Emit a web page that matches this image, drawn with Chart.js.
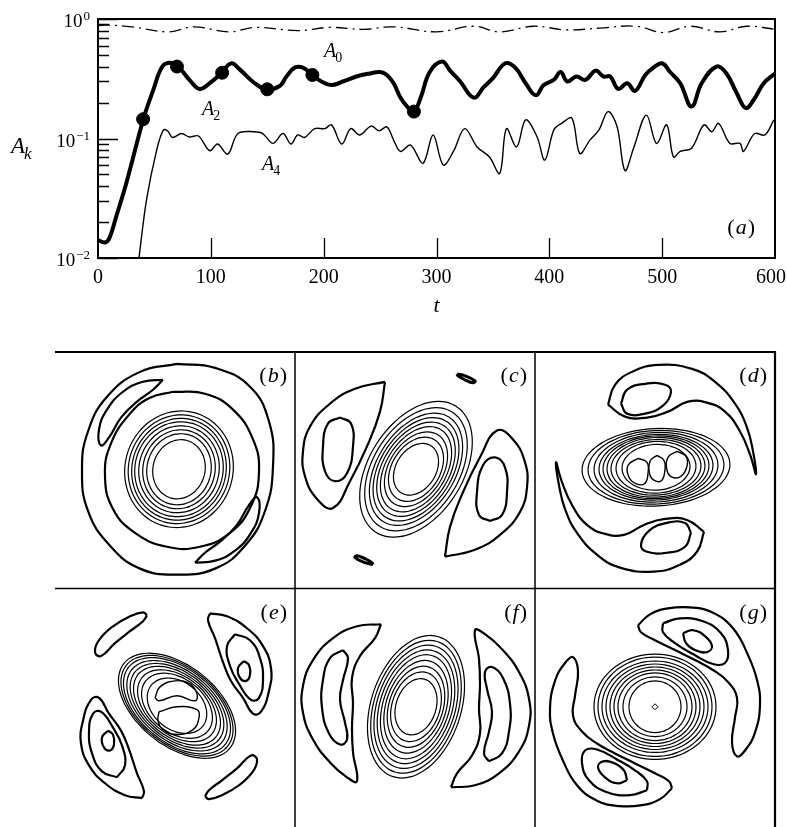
<!DOCTYPE html>
<html>
<head>
<meta charset="utf-8">
<script src="https://cdn.jsdelivr.net/npm/chart.js@4.4.1/dist/chart.umd.min.js"></script>
<style>
html, body { margin: 0; padding: 0; background: #fff; overflow: hidden; width: 787px; height: 827px; }
#seriesChart { position: absolute; left: 0; top: 0; }
#mapChart { position: absolute; left: 0; top: 340px; }
</style>
</head>
<body>
<canvas id="seriesChart" width="787" height="340"></canvas>
<canvas id="mapChart" width="787" height="490"></canvas>
<script>
// ---- panel (a): amplitudes A_k(t) ----
const tA0 = [0, 7, 30, 63, 85, 116, 140, 177, 205, 235, 262, 300, 333, 356, 386, 415, 445, 477, 501, 525, 551, 575, 600];
const valA0 = [0.88, 0.89, 0.86, 0.78, 0.86, 0.78, 0.85, 0.80, 0.85, 0.82, 0.86, 0.78, 0.87, 0.78, 0.87, 0.81, 0.84, 0.87, 0.77, 0.87, 0.78, 0.87, 0.82];

const tA2 = [0, 6, 10, 16, 25, 40, 49, 57, 64, 71, 81, 90, 99, 109, 118, 126, 137, 149, 161, 167, 174, 182, 190, 198, 207, 217, 229, 241, 250, 256, 262, 268, 274, 280, 286, 294, 305, 312, 321, 333, 342, 350, 361, 370, 379, 388, 395, 404, 410, 416, 424, 432, 441, 448, 454, 461, 469, 476, 485, 492, 500, 507, 516, 526, 535, 548, 557, 566, 574, 581, 590, 600];
const valA2 = [0.0141, 0.0135, 0.0146, 0.022, 0.042, 0.143, 0.255, 0.40, 0.43, 0.40, 0.31, 0.26, 0.29, 0.35, 0.425, 0.375, 0.30, 0.258, 0.275, 0.33, 0.39, 0.39, 0.34, 0.30, 0.28, 0.30, 0.33, 0.35, 0.36, 0.34, 0.29, 0.22, 0.185, 0.168, 0.22, 0.36, 0.44, 0.37, 0.30, 0.22, 0.27, 0.32, 0.426, 0.39, 0.29, 0.23, 0.28, 0.31, 0.36, 0.30, 0.33, 0.31, 0.37, 0.33, 0.33, 0.26, 0.29, 0.25, 0.34, 0.39, 0.426, 0.36, 0.29, 0.185, 0.29, 0.40, 0.35, 0.24, 0.18, 0.21, 0.29, 0.35];

const tA4 = [36, 43, 52, 58, 62, 66, 74, 81, 89, 99, 106, 115, 124, 138, 146, 155, 164, 171, 177, 183, 192, 201, 207, 216, 224, 232, 242, 249, 256, 262, 268, 277, 288, 297, 306, 315, 325, 336, 347, 356, 362, 371, 379, 389, 396, 404, 411, 420, 427, 436, 444, 452, 460, 467, 475, 486, 495, 504, 510, 516, 526, 537, 544, 550, 560, 569, 572, 582, 591, 599];
const valA4 = [0.0095, 0.0306, 0.080, 0.118, 0.115, 0.102, 0.11, 0.103, 0.105, 0.079, 0.09, 0.074, 0.11, 0.114, 0.11, 0.091, 0.11, 0.09, 0.107, 0.102, 0.121, 0.121, 0.13, 0.09, 0.121, 0.107, 0.127, 0.116, 0.125, 0.097, 0.078, 0.088, 0.062, 0.107, 0.060, 0.078, 0.121, 0.085, 0.070, 0.051, 0.121, 0.085, 0.143, 0.104, 0.066, 0.118, 0.134, 0.148, 0.075, 0.097, 0.118, 0.168, 0.126, 0.054, 0.085, 0.157, 0.091, 0.13, 0.07, 0.078, 0.083, 0.13, 0.114, 0.134, 0.091, 0.091, 0.078, 0.11, 0.107, 0.143];

// snapshot times marked on A_2 (panels b-g)
const tSnap = [40, 70, 110, 150, 190, 280];
const valSnap = [0.145, 0.40, 0.355, 0.258, 0.34, 0.168];

const xTicks = [0, 100, 200, 300, 400, 500, 600];
const yDecades = [0.01, 0.1, 1];
const yExponents = ['\u22122', '\u22121', '0'];

// ---- panels (b)-(g): contour maps, local coords 240 x 238 per panel ----
const panelNames = ['b', 'c', 'd', 'e', 'f', 'g'];
const panelOrigins = [[0, 0], [240, 0], [480, 0], [0, 238], [240, 238], [480, 238]];

// dense vortex rings: centre, tilt (deg), semi-axes
const ringCenters = [[124, 118], [121, 118], [121, 116], [122, 118], [121, 119], [120, 119]];
const ringTilts = [15, -58, -3, 39, -72, 0];
const ringA = [
  [26, 32, 36, 40, 44, 47, 50.5, 54],
  [28, 35, 41, 47, 52, 57, 62, 68, 75],
  [34, 40, 45, 49, 53, 57, 62, 68, 74],
  [33, 40, 45, 50, 54, 58, 62, 65, 68],
  [29, 36, 42, 48, 54, 59, 64, 69, 74],
  [26, 32, 37, 41, 45, 49, 53, 57, 61]
];
const ringB = [
  [30, 36, 40, 44, 48, 51.5, 55, 59],
  [20, 24, 27, 30, 33, 36, 39, 43, 47],
  [23, 26, 28, 30, 31.5, 33, 35, 37, 39],
  [24, 27, 29, 31, 33, 35, 37, 38.5, 40],
  [20, 24, 27, 30, 33, 36, 39, 42, 45],
  [26, 30, 34, 37, 40, 43, 46, 50, 53]
];

// outer contours (thick) per panel
const curvesB = [
  [[122,12],[160,16],[195,35],[214,70],[218,115],[210,160],[190,195],[160,218],[122,224],[85,218],[55,195],[33,160],[27,118],[33,80],[52,45],[85,20]],
  [[118,40],[150,42],[178,58],[198,88],[204,120],[196,155],[175,182],[145,196],[112,196],[80,182],[58,158],[50,125],[56,92],[75,62],[95,46]],
  [[108,28],[88,30],[68,40],[52,58],[44,78],[46,94],[54,86],[66,66],[82,50],[98,38]],
  [[140,212],[160,210],[180,200],[196,182],[204,162],[202,146],[194,154],[182,174],[166,190],[150,202]]
];
const curvesC = [
  [[90,30],[85,60],[72,95],[55,130],[38,157],[22,148],[10,125],[8,100],[15,75],[35,52],[60,37]],
  [[45,66],[56,72],[58,95],[52,122],[40,130],[30,120],[28,95],[33,72]],
  [[150,206],[155,176],[168,141],[185,106],[202,79],[218,88],[230,111],[232,136],[225,161],[205,184],[180,199]],
  [[195,170],[184,164],[182,141],[188,114],[200,106],[210,116],[212,141],[207,164]]
];
const blobsC = [
  [[162,22],[170,24],[180,29],[178,31],[170,28],[163,24]],
  [[78,214],[70,212],[60,207],[62,205],[70,208],[77,212]]
];
const curvesD = [
  [[73,53],[90,65],[112,66],[133,60],[153,50],[172,51],[190,60],[205,80],[215,103],[221,123],[218,100],[212,76],[200,52],[180,30],[157,17],[123,13],[97,20],[80,33]],
  [[86,52],[92,38],[110,32],[130,33],[136,40],[128,54],[110,62],[92,62]],
  [[169,181],[152,169],[130,168],[109,174],[89,184],[70,183],[52,174],[37,154],[27,131],[21,111],[24,134],[30,158],[42,182],[62,204],[85,217],[119,221],[145,214],[162,201]],
  [[156,182],[150,196],[132,202],[112,201],[106,194],[114,180],[132,172],[150,172]]
];
const coresD = [
  [[103,107],[112,111],[113,122],[110,132],[102,133],[94,126],[93,114]],
  [[122,104],[129,109],[130,118],[127,129],[121,130],[115,124],[115,110]],
  [[142,100],[151,105],[152,115],[146,125],[137,126],[132,119],[133,106]]
];
const curvesE = [
  [[92,27],[88,33],[75,43],[60,55],[46,68],[40,64],[44,52],[58,38],[75,28],[88,24]],
  [[150,209],[154,203],[167,193],[182,181],[196,168],[202,172],[198,184],[184,198],[167,208],[154,212]],
  [[155,25],[172,28],[192,40],[208,58],[216,80],[214,103],[206,124],[198,126],[188,110],[176,93],[168,74],[160,50],[153,32]],
  [[180,46],[195,52],[205,70],[208,92],[204,110],[196,112],[184,96],[175,78],[172,58]],
  [[189,73],[194,77],[195,87],[191,93],[185,90],[183,80]],
  [[87,211],[70,208],[50,196],[34,178],[26,156],[28,133],[36,112],[44,110],[54,126],[66,143],[74,162],[82,186],[89,204]],
  [[62,190],[47,184],[37,166],[34,144],[38,126],[46,124],[58,140],[67,158],[70,178]],
  [[53,143],[58,147],[59,157],[55,163],[49,160],[47,150]]
];
const coresE = [
  [[100,110],[105,99],[120,93],[135,96],[142,106],[140,113],[122,108],[104,113]],
  [[104,124],[122,119],[142,122],[144,130],[138,142],[122,147],[108,142],[103,133]]
];
const curvesF = [
  [[86,36],[80,50],[65,68],[57,90],[58,115],[57,140],[58,165],[62,194],[52,190],[35,175],[18,152],[8,125],[8,98],[18,72],[38,50],[62,38]],
  [[48,62],[53,70],[48,92],[45,112],[50,135],[52,152],[45,157],[34,146],[27,120],[28,92],[35,70]],
  [[156,200],[162,186],[177,168],[185,146],[184,121],[185,96],[184,71],[180,42],[190,46],[207,61],[224,84],[234,111],[234,138],[224,164],[204,186],[180,198]],
  [[194,174],[189,166],[194,144],[197,124],[192,101],[190,84],[197,79],[208,90],[215,116],[214,144],[207,166]]
];
const curvesG = [
  [[103,37],[115,26],[133,20],[155,19],[177,24],[198,40],[213,67],[222,92],[225,117],[220,145],[210,163],[202,169],[197,155],[200,130],[202,110],[193,94],[178,82],[160,72],[140,62],[120,52],[106,44]],
  [[128,35],[145,30],[168,33],[186,45],[193,62],[190,75],[178,76],[158,66],[140,55],[128,44]],
  [[148,45],[158,42],[170,48],[177,58],[172,64],[160,62],[151,55]],
  [[137,201],[125,212],[107,218],[85,219],[63,214],[42,198],[27,171],[18,146],[15,121],[20,93],[30,75],[38,69],[43,83],[40,108],[38,128],[47,144],[62,156],[80,166],[100,176],[120,186],[134,194]],
  [[112,203],[95,208],[72,205],[54,193],[47,176],[50,163],[62,162],[82,172],[100,183],[112,194]],
  [[92,193],[82,196],[70,190],[63,180],[68,174],[80,176],[89,183]]
];
const centreMarkG = [[120, 119]];

const thickCurves = [curvesB, curvesC, curvesD, curvesE, curvesF, curvesG];
const thinCurves = [[], blobsC, coresD, coresE, [], []];

const FONT = '"Liberation Serif", "Times New Roman", serif';

function pairs(xs, ys) {
  return xs.map((x, i) => ({ x: x, y: ys[i] }));
}

// Draw the italic symbol with a subscript, e.g. A_2
function drawSub(ctx, x, y, main, sub, size, subSize) {
  ctx.font = 'italic ' + size + 'px ' + FONT;
  ctx.textAlign = 'left';
  ctx.fillText(main, x, y);
  const w = ctx.measureText(main).width;
  ctx.font = (sub === 'k' ? 'italic ' : '') + subSize + 'px ' + FONT;
  ctx.fillText(sub, x + w - 1, y + subSize * 0.38);
}

function drawPanelLabel(ctx, letter, right, base) {
  ctx.textAlign = 'left';
  ctx.font = '22px ' + FONT;
  const wp = ctx.measureText(')').width;
  ctx.font = 'italic 22px ' + FONT;
  const wl = ctx.measureText(letter).width;
  ctx.font = '22px ' + FONT;
  const wo = ctx.measureText('(').width;
  let xx = right - wp - wl - wo - 1;
  ctx.fillText('(', xx, base);
  ctx.font = 'italic 22px ' + FONT;
  ctx.fillText(letter, xx + wo + 1, base);
  ctx.font = '22px ' + FONT;
  ctx.fillText(')', xx + wo + wl + 2, base);
}

// Frame, inward ticks and labels for panel (a)
const seriesAxes = {
  id: 'seriesAxes',
  afterDraw(chart) {
    const { ctx, chartArea: a } = chart;
    const x = chart.scales.x, y = chart.scales.y;
    ctx.save();
    ctx.strokeStyle = '#000';
    ctx.fillStyle = '#000';
    ctx.lineWidth = 2;
    ctx.strokeRect(a.left, a.top, a.right - a.left, a.bottom - a.top);

    ctx.lineWidth = 1.3;
    ctx.beginPath();
    yDecades.forEach(d => {
      for (let m = 1; m < 10; m++) {
        const v = d * m;
        if (v > 1.0001) break;
        const py = Math.round(y.getPixelForValue(v)) + 0.5;
        const len = m === 1 ? 20 : 11;
        ctx.moveTo(a.left, py);
        ctx.lineTo(a.left + len, py);
      }
    });
    xTicks.forEach(t => {
      if (t > 0 && t < 600) {
        const px = Math.round(x.getPixelForValue(t)) + 0.5;
        ctx.moveTo(px, a.bottom);
        ctx.lineTo(px, a.bottom - 20);
      }
    });
    ctx.stroke();

    // x tick labels
    ctx.font = '20px ' + FONT;
    ctx.textAlign = 'center';
    ctx.textBaseline = 'alphabetic';
    xTicks.forEach(t => ctx.fillText(String(t), Math.min(x.getPixelForValue(t), 771), a.bottom + 25));

    // y tick labels 10^e
    yDecades.forEach((d, i) => {
      const py = y.getPixelForValue(d);
      ctx.font = '13px ' + FONT;
      ctx.textAlign = 'right';
      ctx.fillText(yExponents[i], 90, py + 1);
      const ew = ctx.measureText(yExponents[i]).width;
      ctx.font = '19px ' + FONT;
      ctx.fillText('10', 89 - ew, py + 8);
    });

    // axis titles
    ctx.font = 'italic 22px ' + FONT;
    ctx.textAlign = 'center';
    ctx.fillText('t', (a.left + a.right) / 2, 312);
    drawSub(ctx, 11, 153, 'A', 'k', 23, 17);

    // curve annotations
    drawSub(ctx, 324, 57, 'A', '0', 20, 14);
    drawSub(ctx, 202, 115, 'A', '2', 20, 14);
    drawSub(ctx, 262, 170, 'A', '4', 20, 14);

    drawPanelLabel(ctx, 'a', 754, 234);
    ctx.restore();
  }
};

new Chart(document.getElementById('seriesChart').getContext('2d'), {
  type: 'scatter',
  data: {
    datasets: [
      {
        label: 'A0',
        data: pairs(tA0, valA0),
        showLine: true,
        borderColor: '#000',
        borderWidth: 1.3,
        borderDash: [12, 5, 2, 5],
        pointRadius: 0,
        tension: 0.4
      },
      {
        label: 'A2',
        data: pairs(tA2, valA2),
        showLine: true,
        borderColor: '#000',
        borderWidth: 4,
        pointRadius: 0,
        tension: 0.4
      },
      {
        label: 'A4',
        data: pairs(tA4, valA4),
        showLine: true,
        borderColor: '#000',
        borderWidth: 1.4,
        pointRadius: 0,
        tension: 0.35
      },
      {
        label: 'snapshots',
        data: pairs(tSnap, valSnap),
        showLine: false,
        pointRadius: 6.5,
        backgroundColor: '#000',
        borderColor: '#000'
      }
    ]
  },
  options: {
    responsive: false,
    animation: false,
    devicePixelRatio: 1,
    layout: { padding: { left: 98, right: 12, top: 19, bottom: 82 } },
    plugins: { legend: { display: false }, tooltip: { enabled: false } },
    scales: {
      x: { type: 'linear', min: 0, max: 600, display: false },
      y: { type: 'logarithmic', min: 0.01, max: 1, display: false }
    }
  },
  plugins: [seriesAxes]
});

// ---- contour maps ----
function ringPoints(c, tiltDeg, a, b) {
  const th = tiltDeg * Math.PI / 180;
  const out = [];
  for (let k = 0; k < 64; k++) {
    const s = k / 64 * 2 * Math.PI;
    out.push([
      c[0] + a * Math.cos(s) * Math.cos(th) - b * Math.sin(s) * Math.sin(th),
      c[1] + a * Math.cos(s) * Math.sin(th) + b * Math.sin(s) * Math.cos(th)
    ]);
  }
  return out;
}

function contourSet(points, origin, width, tension) {
  const data = points.map(p => ({ x: origin[0] + p[0], y: origin[1] + p[1] }));
  data.push({ x: data[0].x, y: data[0].y });
  return {
    data: data,
    showLine: true,
    borderColor: '#000',
    borderWidth: width,
    pointRadius: 0,
    tension: tension,
    fill: false
  };
}

const mapDatasets = [];
panelOrigins.forEach((origin, i) => {
  ringA[i].forEach((ra, j) => {
    mapDatasets.push(contourSet(ringPoints(ringCenters[i], ringTilts[i], ra, ringB[i][j]), origin, 1.2, 0.3));
  });
  thickCurves[i].forEach(c => mapDatasets.push(contourSet(c, origin, 2.2, 0.45)));
  thinCurves[i].forEach(c => mapDatasets.push(contourSet(c, origin, i === 1 ? 3 : 1.4, 0.45)));
});
mapDatasets.push({
  data: centreMarkG.map(p => ({ x: panelOrigins[5][0] + p[0], y: panelOrigins[5][1] + p[1] })),
  showLine: false,
  pointStyle: 'rectRot',
  pointRadius: 3,
  borderWidth: 1,
  borderColor: '#000',
  backgroundColor: '#fff'
});

const mapFrame = {
  id: 'mapFrame',
  afterDraw(chart) {
    const { ctx } = chart;
    const x = chart.scales.x, y = chart.scales.y;
    const X = v => x.getPixelForValue(v), Y = v => y.getPixelForValue(v);
    ctx.save();
    ctx.strokeStyle = '#000';
    ctx.fillStyle = '#000';
    ctx.lineWidth = 2.2;
    ctx.beginPath();
    ctx.moveTo(X(0), Y(0));
    ctx.lineTo(X(720), Y(0));
    ctx.lineTo(X(720), Y(480));
    ctx.stroke();
    ctx.lineWidth = 1.5;
    ctx.beginPath();
    [240, 480].forEach(v => { ctx.moveTo(X(v), Y(0)); ctx.lineTo(X(v), Y(480)); });
    ctx.moveTo(X(0), Y(238));
    ctx.lineTo(X(720), Y(238));
    ctx.stroke();
    panelNames.forEach((n, i) => {
      const o = panelOrigins[i];
      drawPanelLabel(ctx, n, X(o[0] + 240) - 9, Y(o[1]) + 30);
    });
    ctx.restore();
  }
};

new Chart(document.getElementById('mapChart').getContext('2d'), {
  type: 'scatter',
  data: { datasets: mapDatasets },
  options: {
    responsive: false,
    animation: false,
    devicePixelRatio: 1,
    layout: { padding: { left: 55, right: 12, top: 12, bottom: 2 } },
    plugins: { legend: { display: false }, tooltip: { enabled: false } },
    scales: {
      x: { type: 'linear', min: 0, max: 720, display: false },
      y: { type: 'linear', min: 0, max: 476, reverse: true, display: false }
    }
  },
  plugins: [mapFrame]
});
</script>
</body>
</html>
